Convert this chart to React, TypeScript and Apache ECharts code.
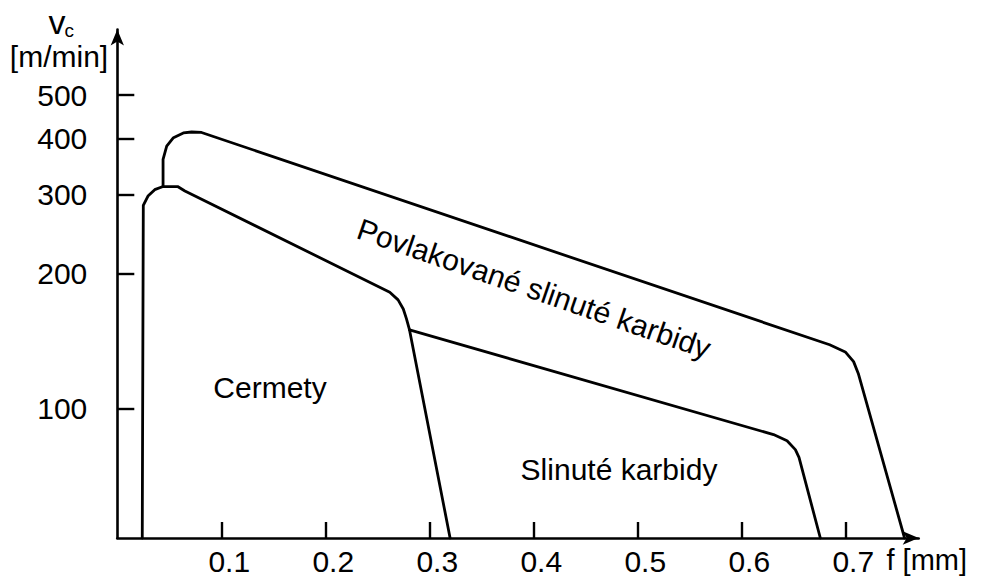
import React, { useEffect, useRef } from "react";
import * as echarts from "echarts";

// Axis tick values
const fTicks = [0.1, 0.2, 0.3, 0.4, 0.5, 0.6, 0.7];
const vcTicks = [100, 200, 300, 400, 500];

// Cermety region outline (f [mm], vc [m/min])
const cermetyF = [0.024, 0.025, 0.0295, 0.036, 0.044, 0.058, 0.065, 0.262, 0.27, 0.275, 0.278, 0.281, 0.32];
const cermetyVc = [51.6, 284, 298, 308, 313, 313, 306, 182, 175, 167, 159, 150, 51.6];

// Povlakované slinuté karbidy outline
const povlakF = [0.044, 0.044, 0.0475, 0.054, 0.0635, 0.0715, 0.081, 0.685, 0.7, 0.708, 0.7125, 0.757];
const povlakVc = [313, 360, 385, 402, 412, 414, 413, 139, 134, 127.5, 120, 51.6];

// Slinuté karbidy outline
const slinuteF = [0.281, 0.631, 0.644, 0.652, 0.6555, 0.676];
const slinuteVc = [150, 87.7, 85, 81.2, 78, 51.6];

const FONT = "'Liberation Sans', Arial, sans-serif";

export default function App() {
  const ref = useRef<HTMLDivElement>(null);

  useEffect(() => {
    if (!ref.current) return;
    const chart = echarts.init(ref.current, null, { renderer: "svg" });
    const black = "#000";
    const pairs = (xs: number[], ys: number[]) => xs.map((x, i) => [x, ys[i]]);
    const lineSeries = (name: string, xs: number[], ys: number[]) => ({
      name,
      type: "line",
      data: pairs(xs, ys),
      symbol: "none",
      smooth: false,
      clip: false,
      lineStyle: { color: black, width: 2.8, join: "round", cap: "round" },
    });

    chart.setOption({
      animation: false,
      backgroundColor: "#fff",
      grid: { left: 117.3, right: 69.3, top: 29.6, bottom: 35.4, containLabel: false },
      xAxis: {
        type: "value",
        min: 0,
        max: 0.7706,
        axisLine: {
          show: true,
          symbol: ["none", "arrow"],
          symbolSize: [10, 16],
          lineStyle: { color: black, width: 2.6 },
        },
        axisTick: {
          show: true,
          inside: true,
          length: 16,
          customValues: fTicks,
          lineStyle: { color: black, width: 2.4 },
        },
        axisLabel: {
          customValues: fTicks,
          margin: 8,
          fontSize: 30,
          fontFamily: FONT,
          color: black,
          padding: [0, 0, 0, 16],
          formatter: (v: number) => String(v),
        },
        splitLine: { show: false },
      },
      yAxis: {
        type: "log",
        logBase: 10,
        min: 51.6,
        max: 700,
        axisLine: {
          show: true,
          symbol: ["none", "arrow"],
          symbolSize: [10, 16],
          lineStyle: { color: black, width: 2.6 },
        },
        axisTick: {
          show: true,
          inside: true,
          length: 17,
          customValues: vcTicks,
          lineStyle: { color: black, width: 2.4 },
        },
        minorTick: { show: false },
        axisLabel: {
          customValues: vcTicks,
          margin: 30,
          fontSize: 30,
          fontFamily: FONT,
          color: black,
          formatter: (v: number) => String(Math.round(v)),
        },
        splitLine: { show: false },
        minorSplitLine: { show: false },
      },
      series: [
        lineSeries("Cermety", cermetyF, cermetyVc),
        lineSeries("Povlakované slinuté karbidy", povlakF, povlakVc),
        lineSeries("Slinuté karbidy", slinuteF, slinuteVc),
      ],
      graphic: [
        {
          type: "text",
          x: 48.5,
          y: 21.5,
          style: { text: "v", font: `34px ${FONT}`, fill: black, align: "left", verticalAlign: "middle" },
        },
        {
          type: "text",
          x: 64.5,
          y: 30.7,
          style: { text: "c", font: `19px ${FONT}`, fill: black, align: "left", verticalAlign: "middle" },
        },
        {
          type: "text",
          x: 59,
          y: 56,
          style: { text: "[m/min]", font: `30px ${FONT}`, fill: black, align: "center", verticalAlign: "middle" },
        },
        {
          type: "text",
          x: 886.5,
          y: 560,
          style: { text: "f [mm]", font: `29px ${FONT}`, fill: black, align: "left", verticalAlign: "middle" },
        },
        {
          type: "text",
          x: 270,
          y: 387,
          style: { text: "Cermety", font: `30px ${FONT}`, fill: black, align: "center", verticalAlign: "middle" },
        },
        {
          type: "text",
          x: 619,
          y: 469,
          style: { text: "Slinuté karbidy", font: `30px ${FONT}`, fill: black, align: "center", verticalAlign: "middle" },
        },
        {
          type: "text",
          x: 534,
          y: 288.5,
          rotation: -0.333,
          style: {
            text: "Povlakované slinuté karbidy",
            font: `30px ${FONT}`,
            fill: black,
            align: "center",
            verticalAlign: "middle",
          },
        },
      ],
    });

    return () => chart.dispose();
  }, []);

  return (
    <div
      ref={ref}
      style={{ position: "fixed", left: 0, top: 0, width: 988, height: 576, background: "#fff" }}
    />
  );
}
